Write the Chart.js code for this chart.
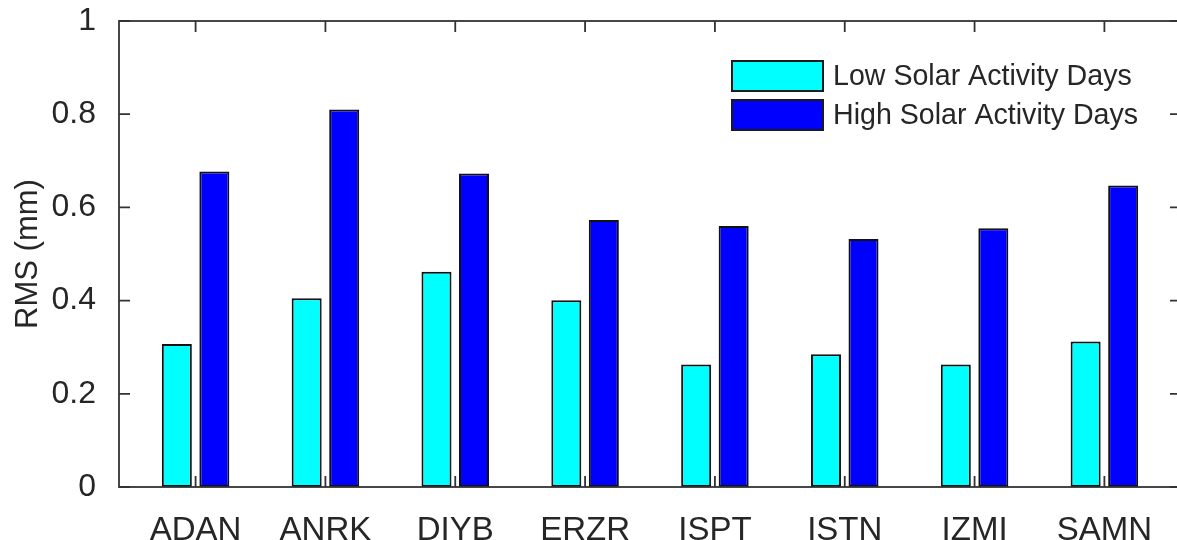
<!DOCTYPE html>
<html>
<head>
<meta charset="utf-8">
<script src="https://cdn.jsdelivr.net/npm/chart.js@4.4.0/dist/chart.umd.min.js"></script>
<style>
  html, body { margin: 0; padding: 0; background: #fff; overflow: hidden; }
  #wrap { width: 1195px; height: 540px; position: relative; }
</style>
</head>
<body>
<div id="wrap"><canvas id="rms"></canvas></div>
<script>
// stations and RMS values
const stations = ['ADAN', 'ANRK', 'DIYB', 'ERZR', 'ISPT', 'ISTN', 'IZMI', 'SAMN'];
const lowSolar  = [0.307, 0.405, 0.462, 0.401, 0.263, 0.285, 0.263, 0.312];
const highSolar = [0.677, 0.810, 0.673, 0.573, 0.560, 0.532, 0.555, 0.647];
const yTicks = [0, 0.2, 0.4, 0.6, 0.8, 1];

const textCol = '#262626';
const axisCol = '#333333';
const fontFam = '"Liberation Sans", Arial, Helvetica, sans-serif';

function toPoints(vals) {
    return vals.map((v, i) => ({ x: i + 1, y: v }));
}

// matlab style box with inward ticks on all four sides
const boxPlugin = {
    id: 'box',
    afterDatasetsDraw(chart) {
        const { ctx, chartArea: a, scales } = chart;
        const tl = 11;
        ctx.save();
        ctx.strokeStyle = axisCol;
        ctx.lineWidth = 1.8;
        ctx.beginPath();
        scales.y.ticks.forEach(t => {
            const py = scales.y.getPixelForValue(t.value);
            ctx.moveTo(a.left, py); ctx.lineTo(a.left + tl, py);
            ctx.moveTo(a.right, py); ctx.lineTo(a.right - tl, py);
        });
        scales.x.ticks.forEach(t => {
            const px = scales.x.getPixelForValue(t.value);
            ctx.moveTo(px, a.bottom); ctx.lineTo(px, a.bottom - tl);
            ctx.moveTo(px, a.top); ctx.lineTo(px, a.top + tl);
        });
        ctx.stroke();
        ctx.strokeRect(a.left, a.top, a.right - a.left, a.bottom - a.top);
        ctx.restore();
    }
};

// legend inside the axes, top right, no frame
const legendPlugin = {
    id: 'insideLegend',
    afterDraw(chart) {
        const { ctx } = chart;
        const x0 = 732, y0 = 61, w = 91, h = 30, gap = 9;
        ctx.save();
        ctx.font = '28.6px ' + fontFam;
        ctx.textBaseline = 'middle';
        ctx.textAlign = 'left';
        chart.data.datasets.forEach((ds, i) => {
            const y = y0 + i * (h + gap);
            ctx.fillStyle = ds.backgroundColor;
            ctx.fillRect(x0, y, w, h);
            ctx.strokeStyle = '#1a1a1a';
            ctx.lineWidth = 2;
            ctx.strokeRect(x0, y, w, h);
            ctx.fillStyle = textCol;
            ctx.fillText(ds.label, x0 + w + 10, y + h / 2 + 1);
        });
        ctx.restore();
    }
};

new Chart(document.getElementById('rms'), {
    type: 'bar',
    data: {
        datasets: [{
            label: 'Low Solar Activity Days',
            data: toPoints(lowSolar),
            backgroundColor: '#00ffff',
            borderColor: '#111111',
            borderWidth: 2,
            borderSkipped: false,
            categoryPercentage: 0.578,
            barPercentage: 0.8
        }, {
            label: 'High Solar Activity Days',
            data: toPoints(highSolar),
            backgroundColor: '#0000ff',
            borderColor: '#111111',
            borderWidth: 2,
            borderSkipped: false,
            categoryPercentage: 0.578,
            barPercentage: 0.8
        }]
    },
    options: {
        responsive: true,
        maintainAspectRatio: false,
        animation: false,
        layout: { padding: { top: 21, right: 14, left: 0, bottom: 0 } },
        plugins: {
            legend: { display: false },
            tooltip: { enabled: false }
        },
        scales: {
            x: {
                type: 'linear',
                offset: false,
                min: 0.41,
                max: 8.59,
                grid: { display: false },
                border: { display: false },
                afterBuildTicks(scale) {
                    scale.ticks = stations.map((s, i) => ({ value: i + 1 }));
                },
                afterFit(scale) {
                    scale.height = 53;
                    scale.paddingLeft = 0;
                    scale.paddingRight = 0;
                },
                ticks: {
                    padding: 16,
                    color: textCol,
                    font: { family: fontFam, size: 33 },
                    callback: v => stations[v - 1]
                }
            },
            y: {
                min: 0,
                max: 1,
                grid: { display: false },
                border: { display: false },
                afterBuildTicks(scale) {
                    scale.ticks = yTicks.map(v => ({ value: v }));
                },
                afterFit(scale) {
                    scale.width = 119;
                    scale.paddingTop = 0;
                    scale.paddingBottom = 0;
                },
                ticks: {
                    padding: 15,
                    color: textCol,
                    font: { family: fontFam, size: 32 },
                    callback: v => String(+v.toFixed(1))
                },
                title: {
                    display: true,
                    text: 'RMS (mm)',
                    color: textCol,
                    font: { family: fontFam, size: 31 },
                    padding: { top: 10, bottom: 0 }
                }
            }
        }
    },
    plugins: [boxPlugin, legendPlugin]
});
</script>
</body>
</html>
